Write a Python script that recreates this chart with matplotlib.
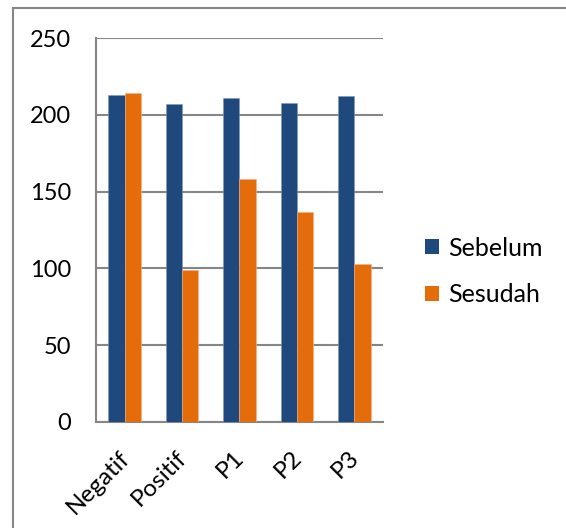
import numpy as np
import matplotlib.pyplot as plt
import matplotlib.transforms as mtransforms
from matplotlib.lines import Line2D
from matplotlib.patches import Patch

plt.rcParams['font.family'] = ['Lato', 'DejaVu Sans']

# Data
categories = ['Negatif', 'Positif', 'P1', 'P2', 'P3']
sebelum = [213, 207, 211, 208, 212]
sesudah = [214, 99, 158, 137, 103]
y_ticks = [0, 50, 100, 150, 200, 250]

blue = '#1F497D'
orange = '#E46C0A'
grid_col = '#868686'

fig = plt.figure(figsize=(5.66, 5.28), dpi=100)
ax = fig.add_axes([0.1696, 0.2008, 0.507, 0.7272])

x = np.arange(len(categories))
w = 0.285
ax.bar(x - w / 2, sebelum, w, color=blue, edgecolor='#7f98b8', linewidth=0.4, zorder=3)
ax.bar(x + w / 2, sesudah, w, color=orange, edgecolor='#f4b183', linewidth=0.4, zorder=3)

ax.set_xlim(-0.5, len(categories) - 0.5)
ax.set_ylim(0, 250)
ax.set_yticks(y_ticks)
ax.set_yticklabels([str(v) for v in y_ticks], fontsize=17)
ax.set_xticks(x)
ax.set_xticklabels(categories, rotation=45, ha='right', rotation_mode='anchor', fontsize=17.5)
ax.tick_params(axis='y', length=0, pad=18)
ax.tick_params(axis='x', length=0, pad=18)

# nudge rotated category labels so they sit under their bar pairs
shift = mtransforms.ScaledTranslation(-6 / 100, 0, fig.dpi_scale_trans)
for lbl in ax.get_xticklabels():
    lbl.set_transform(lbl.get_transform() + shift)

ax.yaxis.grid(True, color=grid_col, linewidth=1.5, zorder=0)
for s in ['top', 'right']:
    ax.spines[s].set_visible(False)
for s in ['left', 'bottom']:
    ax.spines[s].set_color(grid_col)
    ax.spines[s].set_linewidth(1.5)

handles = [Patch(facecolor=blue, label='Sebelum'), Patch(facecolor=orange, label='Sesudah')]
fig.legend(handles=handles, loc='center left', bbox_to_anchor=(0.712, 0.486),
           frameon=False, fontsize=18, handlelength=0.55, handleheight=0.55,
           handletextpad=0.35, labelspacing=0.95)

# chart frame (top and left edges visible)
fig.add_artist(Line2D([13 / 566, 13 / 566], [0, 1 - 8 / 528], transform=fig.transFigure,
                      color=grid_col, linewidth=1.5))
fig.add_artist(Line2D([13 / 566, 1], [1 - 8 / 528, 1 - 8 / 528], transform=fig.transFigure,
                      color=grid_col, linewidth=1.5))

fig.savefig('out.png', dpi=100)
